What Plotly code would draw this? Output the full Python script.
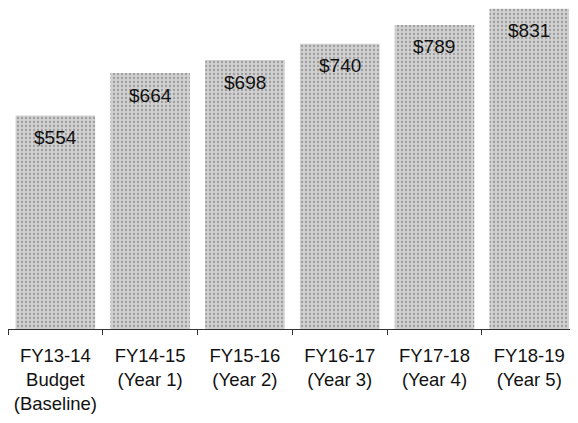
import plotly.graph_objects as go

categories = ["FY13-14<br>Budget<br>(Baseline)", "FY14-15<br>(Year 1)", "FY15-16<br>(Year 2)",
              "FY16-17<br>(Year 3)", "FY17-18<br>(Year 4)", "FY18-19<br>(Year 5)"]
values = [554, 664, 698, 740, 789, 831]
labels = ["$554", "$664", "$698", "$740", "$789", "$831"]

fig = go.Figure()
fig.add_trace(go.Bar(
    x=categories, y=values,
    marker=dict(
        color="#d0d0d0",
        line=dict(width=0),
        pattern=dict(shape=".", fgcolor="#666666", bgcolor="#d0d0d0", size=4, solidity=0.25),
    ),
    hoverinfo="skip",
))

for c, v, t in zip(categories, values, labels):
    fig.add_annotation(x=c, y=v, text=t, showarrow=False, yshift=-22,
                       font=dict(family="Liberation Sans, Arial", size=19, color="#111111"))

fig.update_layout(
    width=562, height=407,
    margin=dict(l=0, r=0, t=0, b=86),
    paper_bgcolor="white", plot_bgcolor="white",
    bargap=0.16, showlegend=False,
    font=dict(family="Liberation Sans, Arial", size=18.5, color="#111111"),
)
fig.update_xaxes(
    type="category", range=[-0.5, 5.43],
    showline=True, linecolor="#333333", linewidth=1.2,
    ticks="outside", tickson="boundaries", ticklen=5, tickcolor="#333333",
    ticklabelstandoff=10,
    showgrid=False, tickfont=dict(size=18.5, color="#111111"),
)
fig.update_yaxes(range=[0, 833], visible=False, showgrid=False)

fig.write_html("out.html")
